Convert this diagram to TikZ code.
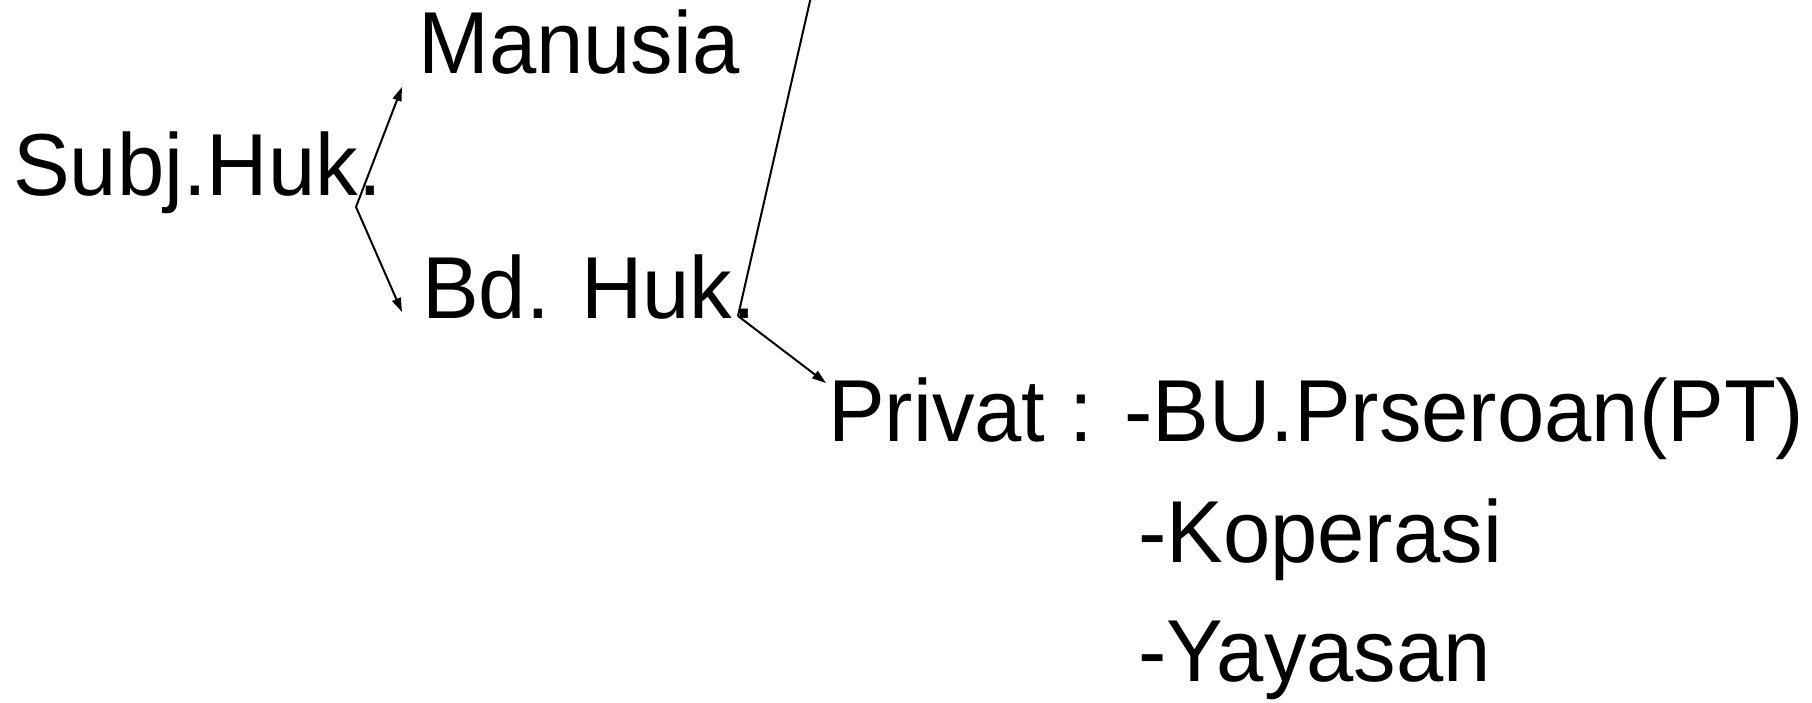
\documentclass[tikz,border=0pt]{standalone}
\usepackage{fontspec}
\setmainfont{Liberation Sans}
\usetikzlibrary{arrows.meta}
\begin{document}
\begin{tikzpicture}[x=1pt,y=1pt,
  lbl/.style={anchor=base west,inner sep=0pt,yscale=1.035,font=\fontsize{85}{100}\selectfont},
  conn/.style={line width=2pt,-{Triangle[length=14pt,width=9pt]}},
  plain/.style={line width=2pt}]
\useasboundingbox (0,0) rectangle (1812,703);
\node[lbl] (subj) at (13,507) {Subj.Huk.};
\node[lbl] (man) at (418,629) {Manusia};
\node[lbl] (bd) at (422,384) {Bd. Huk.};
\node[lbl] (priv) at (828,261) {Privat : -BU.Prseroan(PT)};
\node[lbl] (kop) at (1138,140) {-Koperasi};
\node[lbl] (yay) at (1138,21) {-Yayasan};
\coordinate (s) at (356,496);
\coordinate (tm) at (402,616);
\coordinate (tb) at (402,391);
\coordinate (bdot) at (738,387);
\coordinate (top) at (812.5,713);
\coordinate (tp) at (826,320);
\draw[conn] (s) -- (tm);
\draw[conn] (s) -- (tb);
\draw[plain] (bdot) -- (top);
\draw[conn] (bdot) -- (tp);
\end{tikzpicture}
\end{document}
